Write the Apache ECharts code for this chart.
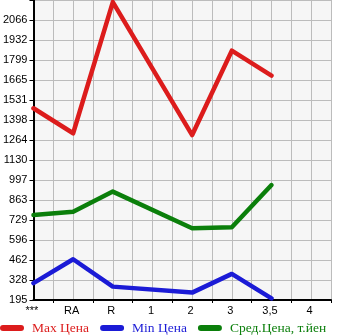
<!DOCTYPE html>
<html><head><meta charset="utf-8">
<script src="https://cdn.jsdelivr.net/npm/echarts@6/dist/echarts.min.js"></script>
<style>html,body{margin:0;padding:0;background:#fff}#c{width:345px;height:335px}</style>
</head><body><div id="c"></div>
<script>
var categories = ['***','RA','R','1','2','3','3,5','4'];
var maxPrice = [1476,1309,2186,null,1297,1861,1694,null];
var minPrice = [307,467,284,null,244,369,206,null];
var avgPrice = [763,785,919,null,674,681,963,null];
var seriesNames = ['Max Цена','Min Цена','Сред.Цена, т.йен'];
var yTickLabels = ['195','328','462','596','729','863','997','1130','1264','1398','1531','1665','1799','1932','2066',''];
var colors = ['#dc1c1c','#1b1bd6','#0b7f0b'];
var yMin = 194.6, yStep = 133.67, ySteps = 15;

var xData = [];
categories.forEach(function(c){ xData.push(c); xData.push(''); });
function pts(arr){
  var out = [];
  arr.forEach(function(v,i){ if(v!==null) out.push([2*i, v]); });
  return out;
}
var icon = 'path://M3,0 L21,0 A3,3 0 0 1 21,6 L3,6 A3,3 0 0 1 3,0 Z';
var chart = echarts.init(document.getElementById('c'), null, {renderer:'canvas'});
chart.setOption({
  animation:false,
  grid:{left:31,right:14,top:0,bottom:35,show:true,backgroundColor:'#f6f6f6',borderWidth:0},
  xAxis:{type:'category',data:xData,boundaryGap:false,
    axisLine:{lineStyle:{color:'#000',width:2}},
    axisTick:{interval:function(i){return i%2===1;},length:3,lineStyle:{color:'#000'}},
    axisLabel:{interval:0,color:'#000',fontSize:11,fontFamily:'Liberation Sans',margin:5,padding:[0,3,0,0]},
    splitLine:{show:true,interval:0,lineStyle:{color:'#bcbcbc',width:1}}},
  yAxis:{type:'value',min:yMin,max:yMin+yStep*ySteps,interval:yStep,
    axisLine:{show:true,lineStyle:{color:'#000',width:2}},
    axisTick:{show:true,length:4,lineStyle:{color:'#000'}},
    axisLabel:{color:'#000',fontSize:11,fontFamily:'Liberation Sans',margin:6,padding:[0,0,7,0],
      formatter:function(v){var k=Math.round((v-yMin)/yStep);return yTickLabels[k]||'';}},
    splitLine:{show:true,lineStyle:{color:'#bcbcbc',width:1}}},
  legend:{left:0,top:321,padding:0,itemWidth:24,itemHeight:6,itemGap:11,icon:icon,
    textStyle:{fontFamily:'Liberation Serif',fontSize:13.5,padding:[0,0,0,3]},
    data:seriesNames.map(function(n,i){return {name:n,icon:icon,textStyle:{color:colors[i]}};})},
  series:[maxPrice,minPrice,avgPrice].map(function(arr,i){
    return {name:seriesNames[i],type:'line',data:pts(arr),showSymbol:false,symbol:'none',
      lineStyle:{width:4.5,color:colors[i],join:'round',cap:'round'},itemStyle:{color:colors[i]}};
  })
});
</script></body></html>
